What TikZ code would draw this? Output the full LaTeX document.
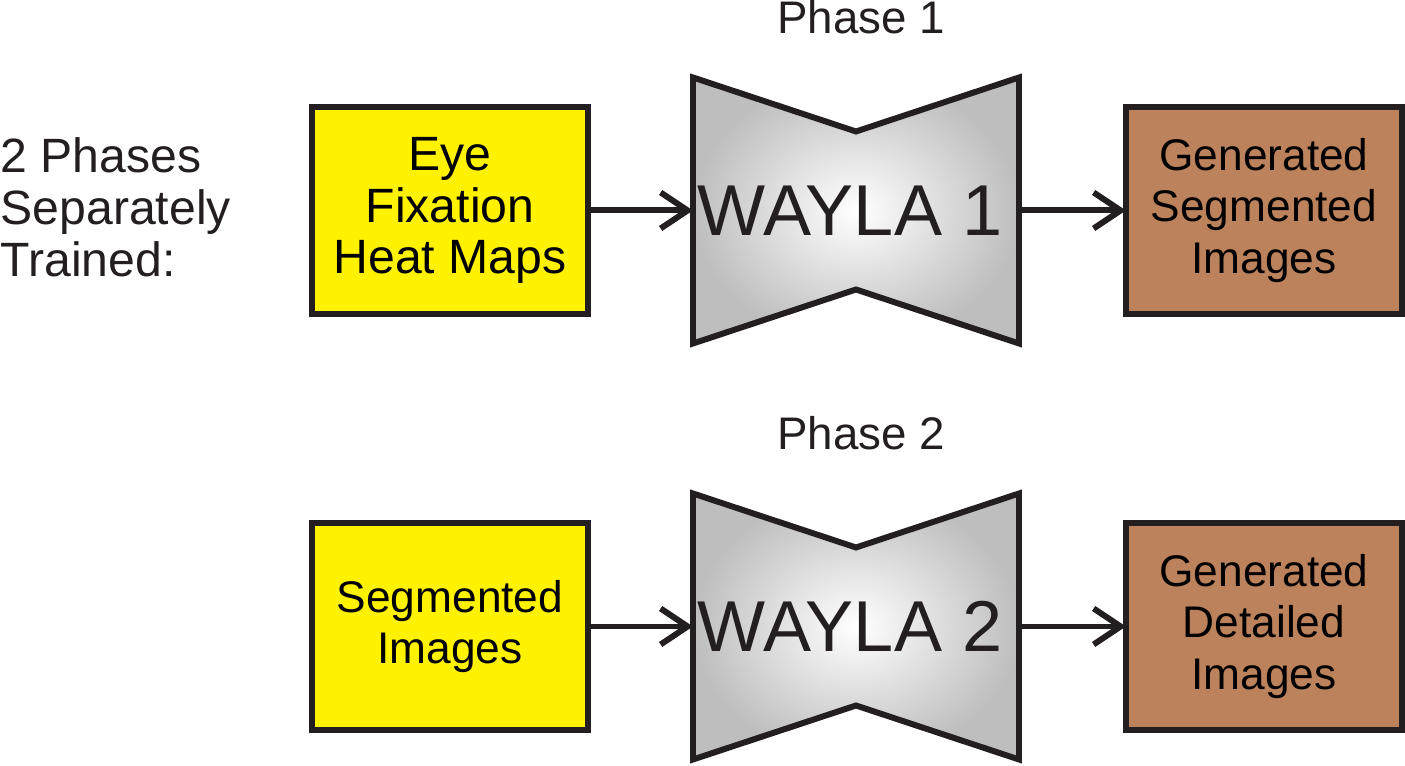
\documentclass[tikz,border=0pt]{standalone}
\usepackage{fontspec}
\setmainfont{Liberation Sans}
\usepackage{tikz}
\usetikzlibrary{%
	calc,%
	arrows.meta,%
	positioning,%
	backgrounds,%
}
\tikzset{
	>={Straight Barb[length=2.7mm,width=3.6mm]},%
	nodes={align=center},%
	inbox/.style={%
			draw=cblack,%
			rectangle,%
			line width=1.7pt,%
			outer sep=0,%
			minimum width=2.76cm,%
			minimum height=2.07cm,%
			font={\fontsize{12.6}{14.6}\selectfont},%
			fill=cyellow},%
	outbox/.style={%
			inbox,%
			fill=cbrown},%
	netnode/.style={%
			rectangle,%
			outer sep=0,%
			inner xsep=0,%
			minimum width=3.26cm,%
			minimum height=2.66cm,%
			font={\fontsize{20.5}{24}\selectfont},%
			text=cblack},%
	netshape/.style={%
			draw=cblack,%
			line width=1.7pt,%
			shading=radial,%
			inner color=white,%
			outer color=cgrey},%
	phaselabel/.style={%
			inner sep=0,%
			font={\fontsize{13}{15}\selectfont},%
			text=cblack},%
	flow/.style={%
			->,%
			draw=cblack,%
			line width=1.7pt},%
}
\definecolor{cblack}{RGB}{35, 31, 32}
\definecolor{cyellow}{RGB}{255, 242, 0}
\definecolor{cbrown}{RGB}{188, 130, 92}
\definecolor{cgrey}{RGB}{190, 190, 190}
\newcommand{\waylashape}[1]{%
	\draw[netshape] (#1.north west) -- ($(#1.north)+(0,-0.54)$) -- (#1.north east)
	-- (#1.south east) -- ($(#1.south)+(0,0.54)$) -- (#1.south west) -- cycle;}

\begin{document}
\begin{tikzpicture}
	\useasboundingbox (0,0) rectangle (14.05,-7.66);

	\node[phaselabel, anchor=west, align=left, font={\fontsize{13.7}{14.8}\selectfont}] (note) at (0,-2.075) {2 Phases\\ Separately\\ Trained:};

	% phase 1
	\node[inbox, font={\fontsize{13.7}{14.6}\selectfont}] (eye) at (4.50,-2.105) {Eye\\ Fixation\\ Heat Maps};
	\node[netnode, right=1.05cm of eye] (wayla1) {WAYLA 1\hspace*{0.12cm}};
	\node[outbox, right=1.07cm of wayla1] (gen1) {Generated\\ Segmented\\ Images};
	\node[phaselabel, above=0.44cm of wayla1.north, anchor=base, xshift=0.05cm] (phase1) {Phase 1};

	% phase 2
	\node[inbox, below=2.09cm of eye] (seg) {Segmented\\ Images};
	\node[netnode, right=1.05cm of seg] (wayla2) {WAYLA 2\hspace*{0.12cm}};
	\node[outbox, right=1.07cm of wayla2] (gen2) {Generated\\ Detailed\\ Images};
	\node[phaselabel, above=0.44cm of wayla2.north, anchor=base, xshift=0.05cm] (phase2) {Phase 2};

	\begin{scope}[on background layer]
		\waylashape{wayla1}
		\waylashape{wayla2}
	\end{scope}

	\draw[flow] (eye) to (wayla1);
	\draw[flow] (wayla1) to (gen1);
	\draw[flow] (seg) to (wayla2);
	\draw[flow] (wayla2) to (gen2);
\end{tikzpicture}
\end{document}
